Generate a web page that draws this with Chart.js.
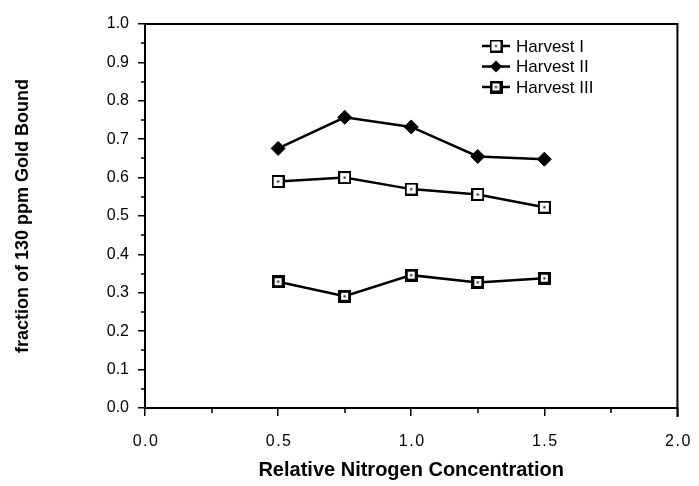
<!DOCTYPE html>
<html>
<head>
<meta charset="utf-8">
<script src="https://cdn.jsdelivr.net/npm/chart.js@4/dist/chart.umd.min.js"></script>
<style>
  html, body { margin: 0; padding: 0; background: #fff; }
  #wrap { width: 699px; height: 486px; }
</style>
</head>
<body>
<div id="wrap"><canvas id="chart" width="699" height="486"></canvas></div>
<script>
// nitrogen levels (x) and gold bound fraction per harvest
const nitrogen = [0.5, 0.75, 1.0, 1.25, 1.5];
const harvest1 = [0.59, 0.60, 0.57, 0.556, 0.523];
const harvest2 = [0.676, 0.757, 0.732, 0.655, 0.648];
const harvest3 = [0.329, 0.291, 0.346, 0.327, 0.338];
const seriesNames = ['Harvest I', 'Harvest II', 'Harvest III'];

const FONT = '"Liberation Sans", Arial, Helvetica, sans-serif';

function toPoints(ys) {
  return nitrogen.map((x, i) => ({ x: x, y: ys[i] }));
}

// square marker with a small dot in the middle, like the old plot
function squareMarker(border) {
  const c = document.createElement('canvas');
  c.width = 13;
  c.height = 13;
  const g = c.getContext('2d');
  g.fillStyle = '#000';
  g.fillRect(0, 0, 13, 13);
  g.fillStyle = '#fff';
  g.fillRect(border, border, 13 - 2 * border, 13 - 2 * border);
  g.fillStyle = '#000';
  g.fillRect(5.5, 5.5, 2, 2);
  return c;
}

const markerI = squareMarker(2);
const markerIII = squareMarker(3);

function drawDiamond(ctx, x, y, r) {
  ctx.fillStyle = '#000';
  ctx.beginPath();
  ctx.moveTo(x, y - r);
  ctx.lineTo(x + r, y);
  ctx.lineTo(x, y + r);
  ctx.lineTo(x - r, y);
  ctx.closePath();
  ctx.fill();
}

const framePlugin = {
  id: 'frameAndTicks',
  afterDraw(chart) {
    const ctx = chart.ctx;
    const area = chart.chartArea;
    const xs = chart.scales.x;
    const ys = chart.scales.y;
    ctx.save();
    ctx.strokeStyle = '#000';

    // top + right border
    ctx.lineWidth = 2;
    ctx.beginPath();
    ctx.moveTo(area.left, area.top);
    ctx.lineTo(area.right, area.top);
    ctx.lineTo(area.right, area.bottom + 9);
    ctx.stroke();

    // minor ticks
    ctx.lineWidth = 1.5;
    ctx.beginPath();
    for (let v = 0.05; v < 1; v += 0.1) {
      const py = Math.round(ys.getPixelForValue(v));
      ctx.moveTo(area.left - 4, py);
      ctx.lineTo(area.left, py);
    }
    for (let v = 0.25; v < 2; v += 0.5) {
      const px = Math.round(xs.getPixelForValue(v));
      ctx.moveTo(px, area.bottom);
      ctx.lineTo(px, area.bottom + 5);
    }
    ctx.stroke();

    // x tick labels, spaced out a bit like the original typewriter look
    ctx.fillStyle = '#000';
    ctx.font = '16px ' + FONT;
    ctx.textAlign = 'center';
    ctx.textBaseline = 'middle';
    ctx.letterSpacing = '1.5px';
    xs.ticks.forEach(t => {
      const px = xs.getPixelForValue(t.value);
      ctx.fillText(Number(t.value).toFixed(1), px + 1, area.bottom + 34);
    });
    ctx.letterSpacing = '0px';

    // legend
    const lx = 496, ly = 46, gap = 20.5;
    ctx.font = '17px ' + FONT;
    ctx.textAlign = 'left';
    chart.data.datasets.forEach((ds, i) => {
      const y = ly + i * gap;
      ctx.lineWidth = 2.5;
      ctx.beginPath();
      ctx.moveTo(lx - 14, y);
      ctx.lineTo(lx + 14, y);
      ctx.stroke();
      if (i === 1) {
        drawDiamond(ctx, lx, y, 6);
      } else {
        ctx.drawImage(i === 0 ? markerI : markerIII, lx - 6.5, y - 6.5);
      }
      ctx.fillStyle = '#000';
      ctx.fillText(ds.label, lx + 20, y + 1);
    });
    ctx.restore();
  }
};

new Chart(document.getElementById('chart'), {
  type: 'scatter',
  data: {
    datasets: [
      {
        label: seriesNames[0],
        data: toPoints(harvest1),
        showLine: true,
        borderColor: '#000',
        borderWidth: 2.5,
        pointStyle: markerI,
        pointRadius: 7
      },
      {
        label: seriesNames[1],
        data: toPoints(harvest2),
        showLine: true,
        borderColor: '#000',
        borderWidth: 2.5,
        pointStyle: 'rectRot',
        pointRadius: 7,
        pointBackgroundColor: '#000',
        pointBorderColor: '#000',
        pointBorderWidth: 1
      },
      {
        label: seriesNames[2],
        data: toPoints(harvest3),
        showLine: true,
        borderColor: '#000',
        borderWidth: 2.5,
        pointStyle: markerIII,
        pointRadius: 7
      }
    ]
  },
  options: {
    responsive: false,
    animation: false,
    layout: { padding: { left: 0, right: 21, top: 24, bottom: 0 } },
    plugins: {
      legend: { display: false },
      tooltip: { enabled: false }
    },
    scales: {
      x: {
        type: 'linear',
        min: 0,
        max: 2,
        afterFit: (scale) => { scale.height = 78; },
        ticks: {
          stepSize: 0.5,
          color: 'rgba(0,0,0,0)',
          font: { family: FONT, size: 8 },
          padding: 16,
          callback: (v) => Number(v).toFixed(1)
        },
        grid: { drawOnChartArea: false, color: '#000', lineWidth: 1.5, tickLength: 8 },
        border: { color: '#000', width: 2 },
        title: {
          display: true,
          text: 'Relative Nitrogen Concentration',
          color: '#000',
          font: { family: FONT, size: 20, weight: 'bold' },
          padding: { top: 0, bottom: 4 }
        }
      },
      y: {
        min: 0,
        max: 1,
        afterFit: (scale) => { scale.width = 145; },
        ticks: {
          stepSize: 0.1,
          color: '#000',
          font: { family: FONT, size: 16 },
          padding: 9,
          callback: (v) => Number(v).toFixed(1)
        },
        grid: { drawOnChartArea: false, color: '#000', lineWidth: 1.5, tickLength: 7 },
        border: { color: '#000', width: 2 },
        title: {
          display: true,
          text: 'fraction of 130 ppm Gold Bound',
          color: '#000',
          font: { family: FONT, size: 18, weight: 'bold' },
          padding: { top: 12, bottom: 20 }
        }
      }
    }
  },
  plugins: [framePlugin]
});
</script>
</body>
</html>
